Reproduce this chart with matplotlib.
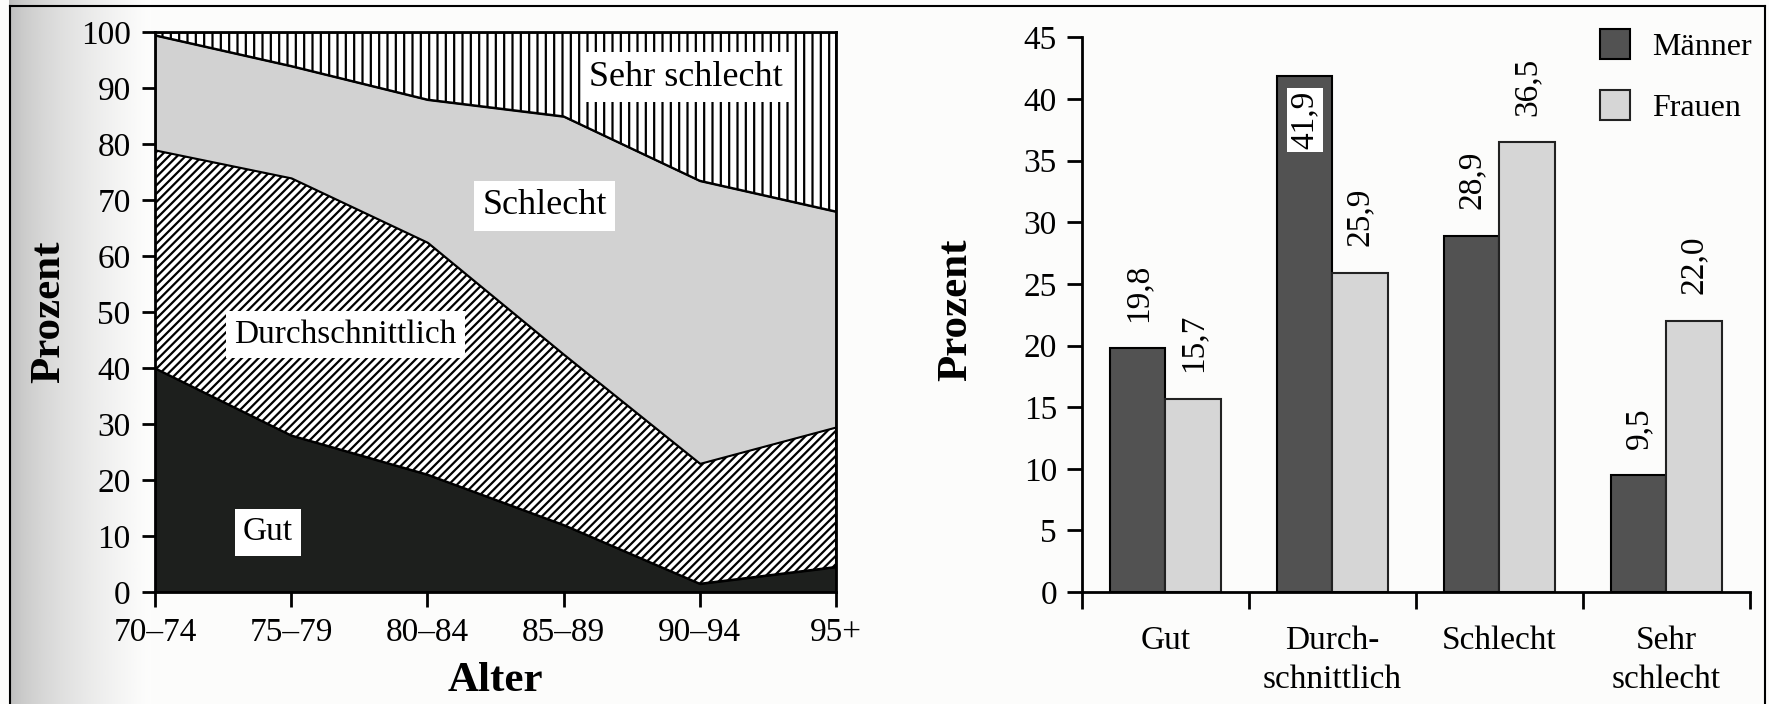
import matplotlib

matplotlib.use("Agg")
import matplotlib.pyplot as plt
import numpy as np
from matplotlib.lines import Line2D
from matplotlib.patches import Patch

plt.rcParams["font.family"] = ["Liberation Serif", "DejaVu Serif"]
plt.rcParams["hatch.linewidth"] = 1.6

# Left chart: self-rated health by age group (percent, stacked)
age_groups = ["70–74", "75–79", "80–84", "85–89", "90–94", "95+"]
gut = [40, 28, 21, 12, 1.5, 4.5]
durchschnittlich = [39, 46, 41.5, 30.5, 21.5, 25]
schlecht = [20.5, 20, 25.5, 42.5, 50.5, 38.5]
sehr_schlecht = [0.5, 6, 12, 15, 26.5, 32]
area_labels = ["Gut", "Durchschnittlich", "Schlecht", "Sehr schlecht"]

# Right chart: men vs women by rating
categories = ["Gut", "Durch-\nschnittlich", "Schlecht", "Sehr\nschlecht"]
maenner = [19.8, 41.9, 28.9, 9.5]
frauen = [15.7, 25.9, 36.5, 22.0]

FS = 24

fig = plt.figure(figsize=(17.69, 7.04), dpi=100, facecolor="#fcfcfb")

# Scanned page: shadow at the binding and a thin frame.
shade = fig.add_axes([0.005, 0, 0.08, 1], zorder=-10)
grad = np.linspace(0, 1, 200) ** 0.6
shade.imshow(grad[np.newaxis, :], cmap="gray", vmin=-0.9, vmax=1.0,
             aspect="auto", extent=[0, 1, 0, 1], alpha=0.5)
shade.set_axis_off()
for xs, ys in [([0.0057, 0.0057], [0, 0.992]),
               ([0.0057, 0.998], [0.992, 0.992]),
               ([0.998, 0.998], [0, 0.992])]:
    fig.add_artist(Line2D(xs, ys, color="black", linewidth=1.5,
                          transform=fig.transFigure))

# ---- Left: stacked areas ----
ax1 = fig.add_axes([0.0876, 0.159, 0.385, 0.795])
x = np.arange(len(age_groups))
polys = ax1.stackplot(
    x, gut, durchschnittlich, schlecht, sehr_schlecht,
    colors=["#1d1f1d", "white", "#d2d2d2", "white"],
    edgecolor="black", linewidth=1.5,
)
for poly, hatch in zip(polys, [None, "////", None, "||"]):
    if hatch:
        poly.set_hatch(hatch)

ax1.set_xlim(0, len(age_groups) - 1)
ax1.set_ylim(0, 100)
ax1.set_xticks(x)
ax1.set_xticklabels(age_groups)
ax1.set_yticks(np.arange(0, 101, 10))
ax1.tick_params(axis="y", length=9.5, width=2, pad=8, labelsize=FS)
ax1.tick_params(axis="x", length=11, width=2, pad=7, labelsize=FS)
for sp in ax1.spines.values():
    sp.set_linewidth(2)
ax1.set_ylabel("Prozent", fontsize=31, fontweight="bold")
ax1.yaxis.set_label_coords(-0.128, 0.5)
ax1.set_xlabel("Alter", fontsize=31, fontweight="bold")
ax1.xaxis.set_label_coords(0.5, -0.125)

label_pos = [(0.83, 10.7), (1.40, 46), (2.86, 69), (3.9, 92)]
label_size = [24, 24, 26, 26]
for name, (lx, ly), fs in zip(area_labels, label_pos, label_size):
    ax1.text(lx, ly, name, fontsize=fs, ha="center", va="center",
             bbox=dict(facecolor="white", edgecolor="none", pad=6))

# ---- Right: grouped bars ----
ax2 = fig.add_axes([0.6116, 0.159, 0.3776, 0.788])
pos = np.arange(len(categories))
w = 0.33
b1 = ax2.bar(pos - w / 2, maenner, w, color="#525252", edgecolor="black",
             linewidth=1.5, label="Männer")
b2 = ax2.bar(pos + w / 2, frauen, w, color="#d6d6d6", edgecolor="#222222",
             linewidth=1.5, label="Frauen")

for bars, vals in [(b1, maenner), (b2, frauen)]:
    for bar, v in zip(bars, vals):
        txt = f"{v:.1f}".replace(".", ",")
        cx = bar.get_x() + bar.get_width() / 2
        if v > 40:
            ax2.annotate(txt, (cx, v), xytext=(0, -11), textcoords="offset points",
                         rotation=90, ha="center", va="top", fontsize=FS,
                         bbox=dict(facecolor="white", edgecolor="none", pad=2))
        else:
            ax2.annotate(txt, (cx, v), xytext=(0, 19), textcoords="offset points",
                         rotation=90, ha="center", va="bottom", fontsize=FS)

ax2.set_xlim(-0.5, len(categories) - 0.5)
ax2.set_ylim(0, 45)
ax2.set_yticks(np.arange(0, 46, 5))
ax2.set_xticks(pos)
ax2.set_xticklabels(categories, linespacing=1.35)
ax2.set_xticks(np.arange(-0.5, len(categories), 1.0), minor=True)
ax2.tick_params(axis="x", which="major", length=0, pad=24, labelsize=FS)
ax2.tick_params(axis="x", which="minor", length=12, width=2)
ax2.tick_params(axis="y", length=11, width=2, pad=7, labelsize=FS)
ax2.spines["top"].set_visible(False)
ax2.spines["right"].set_visible(False)
ax2.spines["left"].set_linewidth(2)
ax2.spines["bottom"].set_linewidth(2)
ax2.set_facecolor("none")
ax2.set_ylabel("Prozent", fontsize=31, fontweight="bold")
ax2.yaxis.set_label_coords(-0.16, 0.508)

handles = [Patch(facecolor="#525252", edgecolor="black", linewidth=1.5),
           Patch(facecolor="#d6d6d6", edgecolor="#222222", linewidth=1.5)]
ax2.legend(handles, ["Männer", "Frauen"], loc="upper left",
           bbox_to_anchor=(0.775, 1.015), frameon=False, fontsize=23,
           handlelength=0.95, handleheight=1.05, handletextpad=0.7,
           labelspacing=0.9, borderpad=0, borderaxespad=0)

fig.savefig("out.png", dpi=100, facecolor=fig.get_facecolor())
